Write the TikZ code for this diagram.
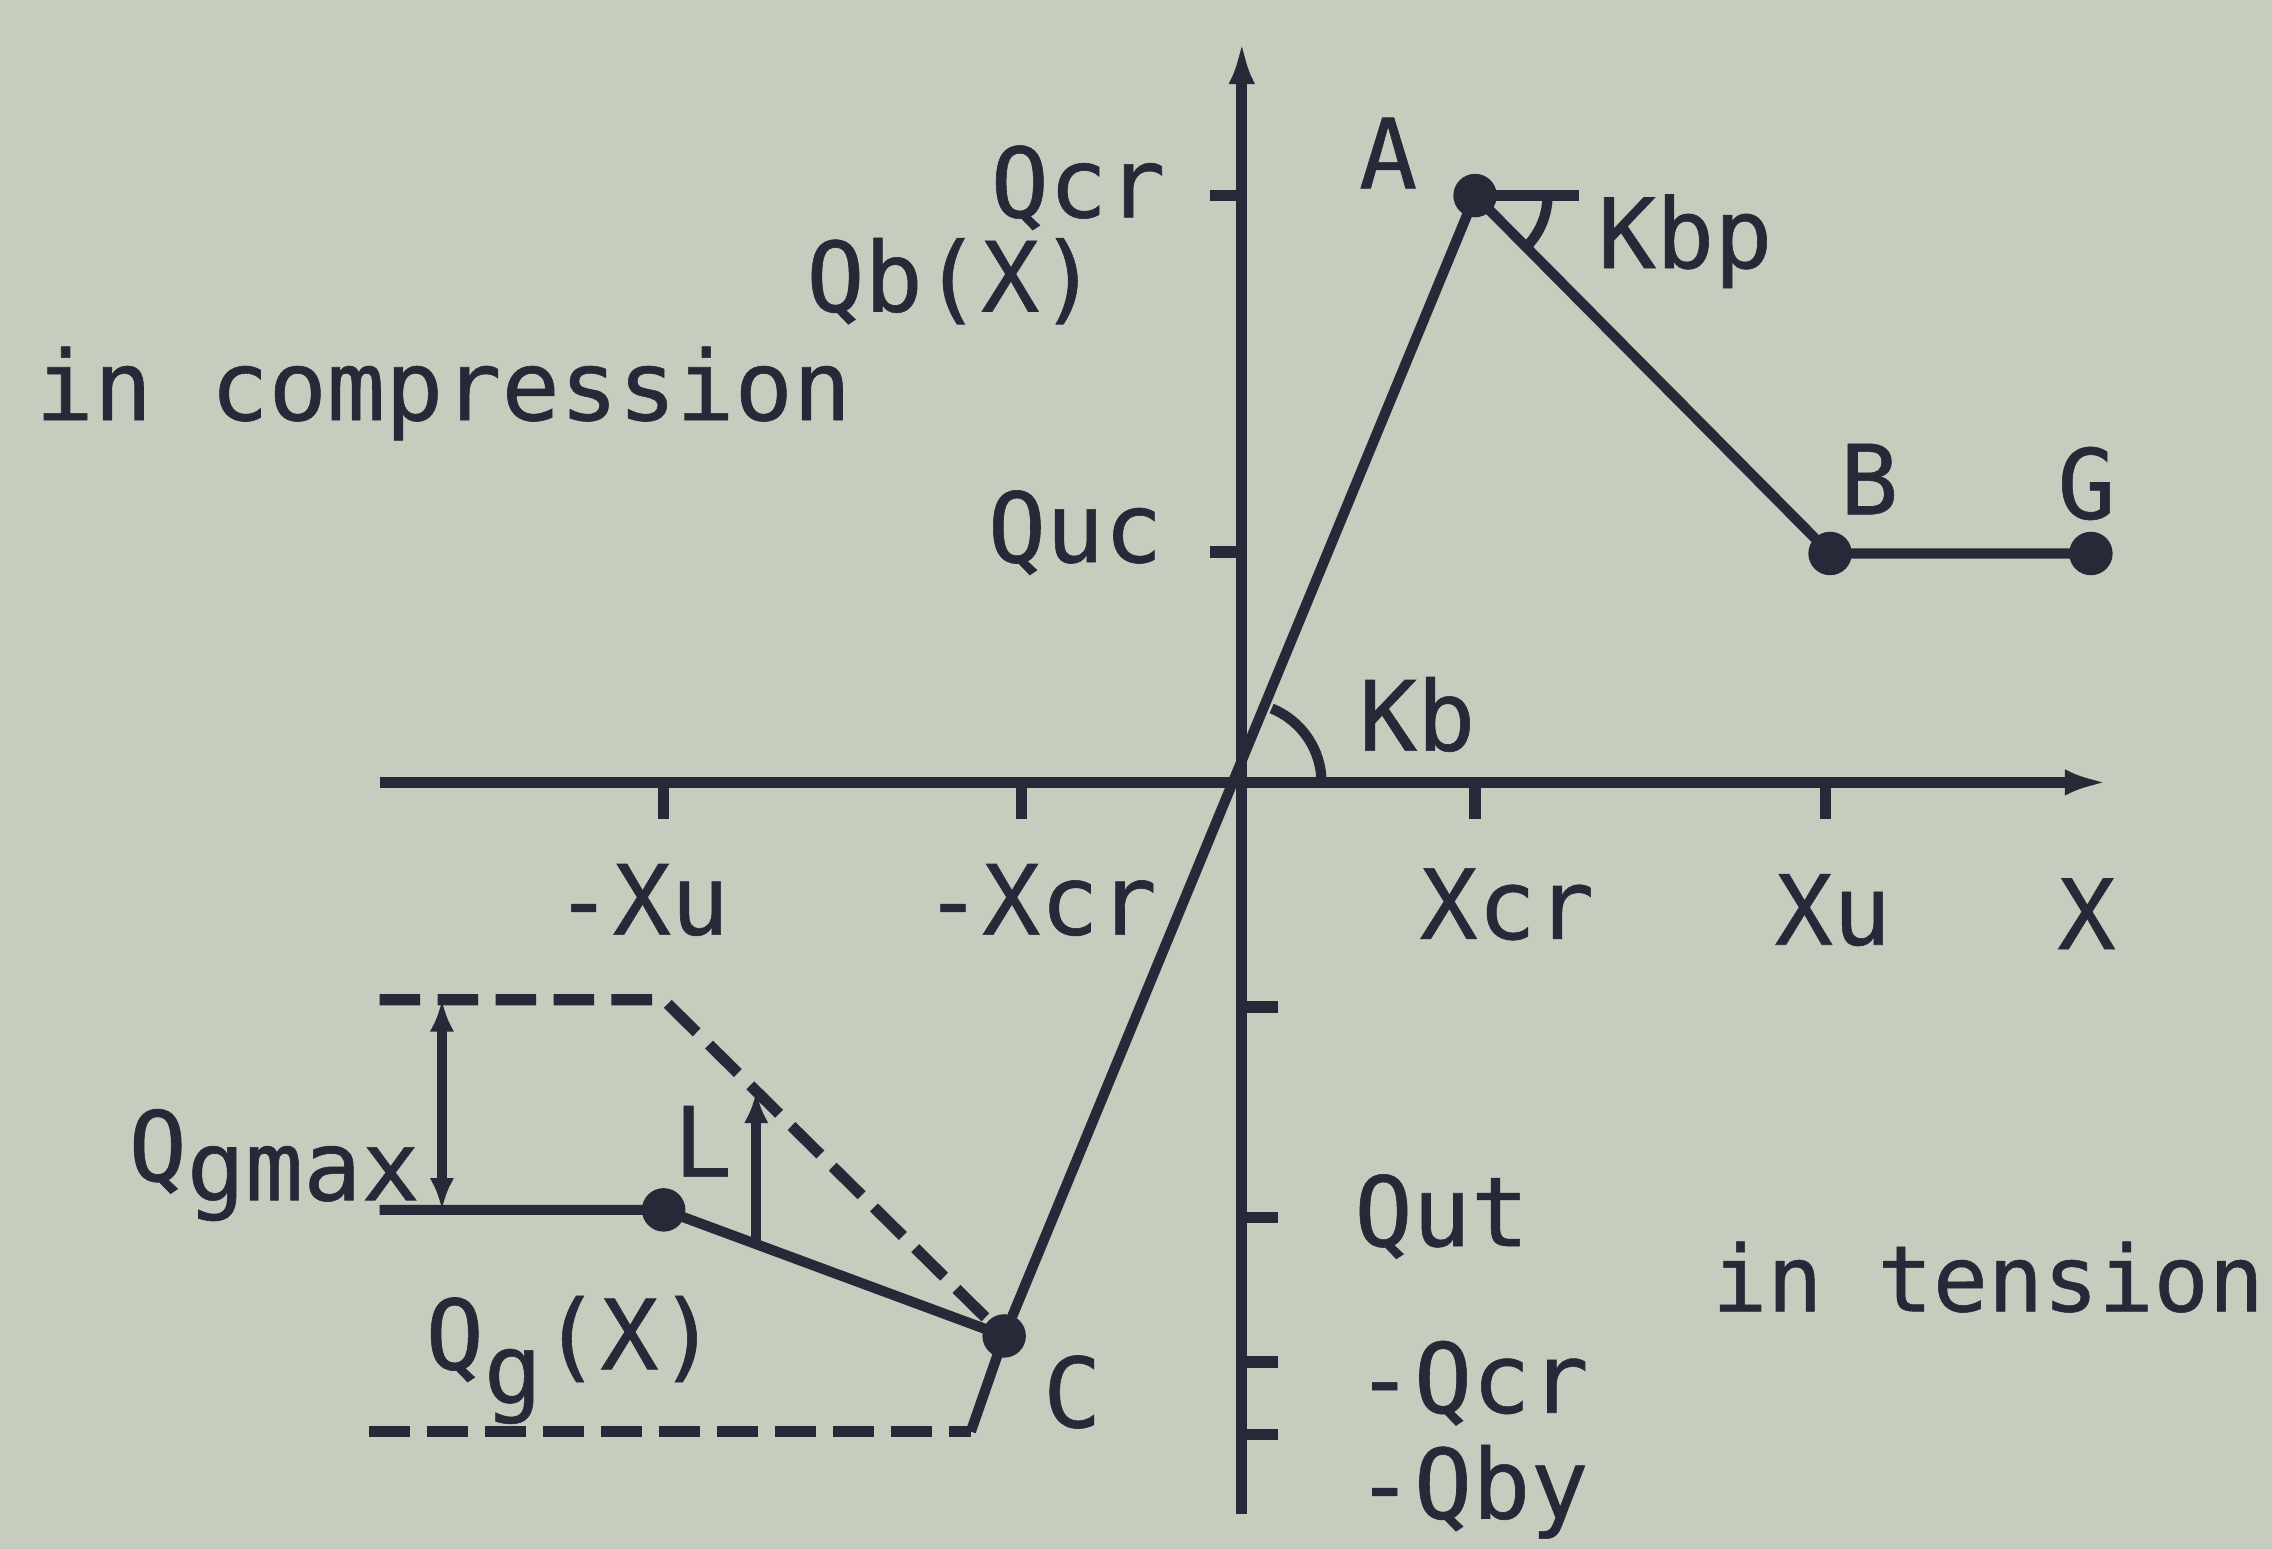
\documentclass[tikz,border=0pt]{standalone}
\usepackage{fontspec}
\setmainfont{DejaVu Sans Mono}
\newfontfamily\plotfont{DejaVu Sans Mono}[FakeBold=0.6]
\usetikzlibrary{arrows.meta,calc}
\definecolor{paper}{RGB}{198,204,190}
\definecolor{ink}{RGB}{38,42,56}
\tikzset{
  axis/.style={ink, line width=2.2pt},
  curve/.style={ink, line width=2pt},
  guide/.style={ink, line width=2.2pt, dash pattern=on 0.28cm off 0.12cm},
  lbl/.style={ink, inner sep=0pt, anchor=base, font=\plotfont\fontsize{19}{22}\selectfont},
  dot/.style={ink},
}
\begin{document}
\begin{tikzpicture}
\useasboundingbox (0,0) rectangle (15.68,10.69);
\fill[paper] (0,0) rectangle (15.68,10.69);
% points of the curves:
\coordinate (O) at (8.57,5.29);
\coordinate (A) at (10.18,9.34);
\coordinate (B) at (12.63,6.87);
\coordinate (G) at (14.43,6.87);
\coordinate (C) at (6.93,1.47);
\coordinate (L) at (4.58,2.34);
\coordinate (Ltop) at (4.58,3.79);
\coordinate (Cfoot) at (6.70,0.81);
\coordinate (Kh) at (10.90,9.34);
% axes:
\coordinate (xl) at (2.62,5.29);
\coordinate (xr) at (14.55,5.29);
\coordinate (yb) at (8.57,0.24);
\coordinate (yt) at (8.57,10.41);
\draw[axis,-{Latex[length=0.3cm,width=0.18cm]}] (xl) -- (xr);
\draw[axis,-{Latex[length=0.3cm,width=0.18cm]}] (yb) -- (yt);
\foreach \x in {4.58,7.05,10.18,12.60}
  \draw[axis] (\x,5.29) -- ++(0,-0.25);
\foreach \y in {9.34,6.88}
  \draw[axis] (8.57,\y) -- ++(-0.22,0);
\foreach \y in {3.74,2.29,1.29,0.79}
  \draw[axis] (8.57,\y) -- ++(0.25,0);
% upper branch:
\draw[curve] (C) -- (A) -- (B) -- (G);
\draw[curve] (A) -- (Kh);
\draw[curve] ($(A)+(0.5,0)$) arc[start angle=0,end angle=-45,radius=0.5];
\draw[curve] ($(O)+(0.55,0)$) arc[start angle=0,end angle=68,radius=0.55];
% lower branch:
\draw[curve] (xl |- L) -- (L) -- (C) -- (Cfoot);
\draw[guide] (2.55,0.81) -- (Cfoot);
\draw[guide] (xl |- Ltop) -- (Ltop) -- (C);
\coordinate (m1) at ($(L)!0.272!(C)$);
\coordinate (m2) at ($(Ltop)!0.272!(C)$);
\coordinate (g1) at (3.05,2.34);
\coordinate (g2) at (3.05,3.79);
\draw[curve,{Latex[length=0.22cm,width=0.17cm]}-{Latex[length=0.22cm,width=0.17cm]}] (g1) -- (g2);
\draw[curve,-{Latex[length=0.22cm,width=0.17cm]}] (m1) -- (m2);
\foreach \p in {A,B,G,L,C}
  \fill[dot] (\p) circle (0.15);
% labels:
\node[lbl] (lA) at (9.58,9.39) {A};
\node[lbl] (lKbp) at (11.63,8.84) {Kbp};
\node[lbl,anchor=base east] (lQcr) at (8.05,9.19) {Qcr};
\node[lbl] (lQb) at (6.57,8.54) {Qb(X)};
\node[lbl] (lcomp) at (3.06,7.79) {in compression};
\node[lbl,anchor=base east] (lQuc) at (8.03,6.81) {Quc};
\node[lbl] (lB) at (12.90,7.14) {B};
\node[lbl] (lG) at (14.40,7.11) {G};
\node[lbl] (lKb) at (9.78,5.51) {Kb};
\node[lbl] (lmXu) at (4.43,4.24) {-Xu};
\node[lbl] (lmXcr) at (7.18,4.24) {-Xcr};
\node[lbl] (lXcr) at (10.40,4.21) {Xcr};
\node[lbl] (lXu) at (12.65,4.17) {Xu};
\node[lbl] (lX) at (14.40,4.14) {X};
\node[lbl,anchor=base west] (lQgmax) at (0.88,2.54) {Q\raisebox{-0.2em}{gmax}};
\node[lbl] (lL) at (4.85,2.57) {L};
\node[lbl,anchor=base west] (lQg) at (2.93,1.24) {Q\raisebox{-0.35em}{g}(X)};
\node[lbl] (lC) at (7.40,0.84) {C};
\node[lbl] (lQut) at (9.95,2.09) {Qut};
\node[lbl,font=\plotfont\fontsize{18}{22}\selectfont] (lten) at (13.72,1.64) {in tension};
\node[lbl] (lmQcr) at (10.16,0.94) {-Qcr};
\node[lbl] (lmQby) at (10.16,0.21) {-Qby};
\end{tikzpicture}
\end{document}
